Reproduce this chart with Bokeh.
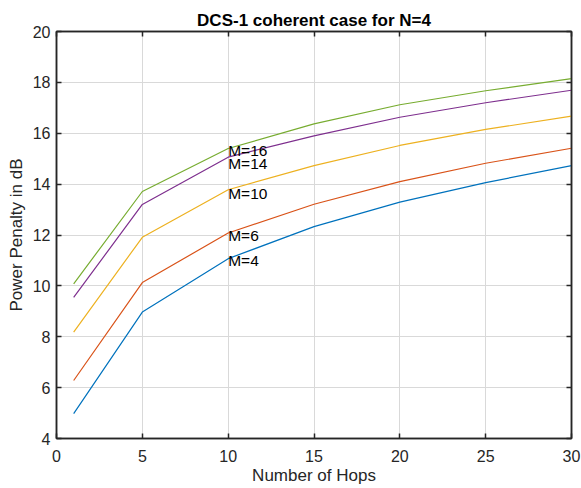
from bokeh.plotting import figure
from bokeh.models import Range1d, LinearAxis, FixedTicker, ColumnDataSource
from bokeh.core.properties import value
from bokeh.embed import file_html
from bokeh.resources import INLINE

hops = [1, 5, 10, 15, 20, 25, 30]
m4 = [4.98, 8.97, 11.07, 12.33, 13.29, 14.06, 14.73]
m6 = [6.28, 10.13, 12.08, 13.21, 14.10, 14.82, 15.41]
m10 = [8.18, 11.91, 13.78, 14.73, 15.52, 16.15, 16.67]
m14 = [9.55, 13.20, 15.06, 15.90, 16.63, 17.20, 17.69]
m16 = [10.08, 13.71, 15.40, 16.37, 17.12, 17.67, 18.15]
series = [("M=4", m4), ("M=6", m6), ("M=10", m10), ("M=14", m14), ("M=16", m16)]
colors = ["#0072BD", "#D95319", "#EDB120", "#7E2F8E", "#77AC30"]

label_texts = ["M=16", "M=14", "M=10", "M=6", "M=4"]
label_x = [10, 10, 10, 10, 10]
label_y = [15.32, 14.81, 13.62, 11.98, 11.0]

x_ticks = [0, 5, 10, 15, 20, 25, 30]
y_ticks = [4, 6, 8, 10, 12, 14, 16, 18, 20]

FONT = "Liberation Sans"
AX = "#262626"

p = figure(frame_width=515, frame_height=407, output_backend="svg",
           toolbar_location=None, x_range=Range1d(0, 30), y_range=Range1d(4, 20),
           min_border_left=56, min_border_right=10, min_border_top=31,
           min_border_bottom=50, title="DCS-1 coherent case for N=4")
p.background_fill_color = "white"
p.border_fill_color = "white"
p.outline_line_color = AX
p.outline_line_width = 1.5

p.title.align = "center"
p.title.text_font = FONT
p.title.text_font_size = "17px"
p.title.text_font_style = "bold"
p.title.text_color = "#000000"
p.title.standoff = 4

for ax in (p.xaxis[0], p.yaxis[0]):
    ax.major_label_text_font = FONT
    ax.major_label_text_font_size = "16px"
    ax.major_label_text_color = AX
    ax.axis_label_text_font = FONT
    ax.axis_label_text_font_size = "17px"
    ax.axis_label_text_font_style = "normal"
    ax.axis_label_text_color = AX
    ax.axis_line_color = AX
    ax.axis_line_width = 1.5
    ax.major_tick_line_color = AX
    ax.major_tick_line_width = 1.5
    ax.major_tick_in = 5
    ax.major_tick_out = 0
    ax.minor_tick_line_color = None

p.xaxis[0].ticker = FixedTicker(ticks=x_ticks)
p.yaxis[0].ticker = FixedTicker(ticks=y_ticks)
p.xaxis[0].axis_label = "Number of Hops"
p.yaxis[0].axis_label = "Power Penalty in dB"
p.xaxis[0].major_label_standoff = 11
p.yaxis[0].major_label_standoff = 6
p.xaxis[0].axis_label_standoff = 1
p.yaxis[0].axis_label_standoff = 4

for loc, tk in (("right", y_ticks), ("above", x_ticks)):
    a = LinearAxis(ticker=FixedTicker(ticks=tk))
    a.major_label_overrides = {t: "" for t in tk}
    a.major_label_text_font_size = "1px"
    a.major_label_standoff = 0
    a.axis_line_color = AX
    a.axis_line_width = 1.5
    a.major_tick_line_color = AX
    a.major_tick_line_width = 1.5
    a.major_tick_in = 5
    a.major_tick_out = 0
    a.minor_tick_line_color = None
    p.add_layout(a, loc)

p.xgrid.ticker = FixedTicker(ticks=x_ticks)
p.ygrid.ticker = FixedTicker(ticks=y_ticks)
p.grid.grid_line_color = "#d9d9d9"
p.grid.grid_line_width = 1

for (name, ys), c in zip(series, colors):
    p.line(hops, ys, line_color=c, line_width=1.2)

src = ColumnDataSource(dict(x=label_x, y=label_y, t=label_texts))
p.text(x="x", y="y", text="t", source=src, text_font=value(FONT),
       text_font_size="15.5px", text_color="#000000", text_align="left",
       text_baseline="middle")

open("out.html", "w").write(file_html(p, INLINE))
